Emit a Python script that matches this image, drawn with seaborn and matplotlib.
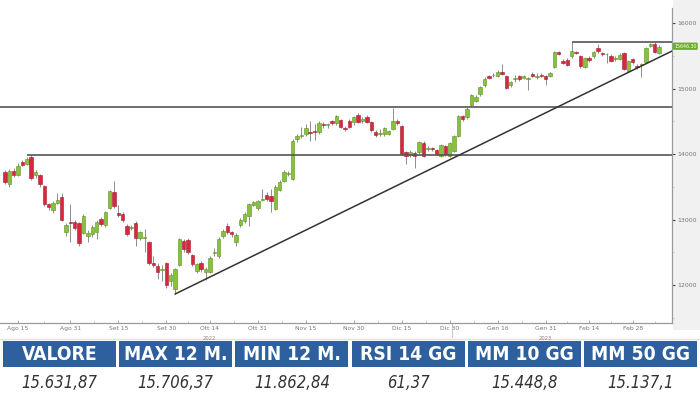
import numpy as np
import pandas as pd
import matplotlib
matplotlib.use('Agg')
from matplotlib import pyplot as plt
from matplotlib.patches import Rectangle
from matplotlib.lines import Line2D
import seaborn as sns

# Daily candles, last session 8 Mar 2023
opens = [13725, 13540, 13740, 13680, 13880, 13850, 13955, 13680, 13680, 13510,
         13235, 13145, 13250, 13340, 12810, 12960, 12960, 12945, 12795, 12750,
         12780, 12810, 13010, 12915, 13175, 13420, 13100, 13085, 12900, 12870,
         12945, 12715, 12720, 12655, 12335, 12290, 12225,
         12335, 12060, 11940, 12305, 12670, 12680, 12455, 12215, 12335, 12200,
         12200, 12490, 12440, 12750, 12900, 12810, 12660, 12920, 12975, 13055,
         13220, 13175, 13300, 13370, 13360, 13160, 13450, 13590, 13700, 13620,
         14230, 14280, 14305, 14330, 14350, 14335, 14460, 14440, 14500, 14475,
         14520, 14400, 14505, 14490, 14600, 14500, 14565, 14490, 14335, 14310,
         14305, 14305, 14380, 14505, 14430, 14030, 13990, 14015, 14030, 14170,
         14080, 14090, 14060, 13970, 14120, 13970, 14045, 14275, 14580, 14565,
         14750, 14810, 14915, 15055, 15190, 15200, 15190, 15250, 15190, 15055,
         15140, 15190, 15160, 15145, 15220, 15180, 15205, 15190, 15190, 15330,
         15560, 15420, 15435, 15495, 15560, 15495, 15330, 15465, 15495, 15620,
         15540, 15520, 15495, 15450, 15450, 15540, 15270, 15450, 15345, 15360,
         15405, 15650, 15680, 15545]
highs = [13760, 13770, 13790, 13860, 13910, 13960, 13990, 13760, 13700, 13530,
         13260, 13290, 13400, 13410, 12950, 13240, 13000, 12960, 13080, 12840,
         12920, 12990, 13040, 13130, 13450, 13590, 13220, 13110, 12930, 12920,
         12980, 12830, 12850, 12670, 12450, 12330, 12300,
         12350, 12180, 12260, 12720, 12700, 12720, 12480, 12340, 12360, 12280,
         12440, 12560, 12730, 12850, 12950, 12830, 12790, 13020, 13110, 13250,
         13290, 13300, 13460, 13420, 13460, 13520, 13600, 13760, 13740, 14230,
         14300, 14420, 14460, 14500, 14460, 14500, 14490, 14470, 14520, 14600,
         14540, 14430, 14530, 14580, 14620, 14570, 14590, 14510, 14360, 14380,
         14420, 14370, 14700, 14530, 14450, 14050, 14060, 14040, 14200, 14200,
         14120, 14110, 14080, 14150, 14140, 14190, 14290, 14600, 14600, 14720,
         14920, 14900, 15040, 15170, 15210, 15240, 15280, 15370, 15200, 15120,
         15200, 15210, 15210, 15180, 15260, 15230, 15230, 15210, 15260, 15580,
         15580, 15450, 15460, 15706, 15580, 15510, 15480, 15490, 15580, 15680,
         15560, 15550, 15520, 15490, 15540, 15560, 15440, 15470, 15370, 15390,
         15640, 15700, 15706, 15665]
lows = [13540, 13500, 13650, 13660, 13820, 13830, 13610, 13640, 13500, 13200,
        13150, 13100, 13230, 12970, 12750, 12650, 12840, 12600, 12780, 12650,
        12740, 12700, 12900, 12890, 13160, 13180, 13040, 12960, 12750, 12840,
        12600, 12690, 12500, 12300, 12280, 12090, 12060,
        11960, 11980, 11862, 12290, 12500, 12480, 12290, 12190, 12200, 12080,
        12180, 12440, 12420, 12720, 12780, 12740, 12600, 12880, 12950, 12900,
        13200, 13150, 13280, 13290, 13120, 13140, 13430, 13570, 13660, 13600,
        14180, 14250, 14280, 14200, 14210, 14310, 14400, 14390, 14450, 14450,
        14390, 14350, 14390, 14450, 14470, 14480, 14470, 14340, 14260, 14270,
        14280, 14290, 14360, 14450, 13980, 13850, 13950, 13780, 14000, 13950,
        14050, 14050, 13980, 13950, 13970, 13950, 14030, 14260, 14500, 14540,
        14730, 14790, 14890, 15030, 15140, 15170, 15170, 15200, 14990, 15030,
        15100, 15120, 15140, 14980, 15170, 15150, 15170, 15050, 15170, 15310,
        15510, 15370, 15340, 15470, 15520, 15320, 15310, 15410, 15470, 15550,
        15500, 15390, 15400, 15420, 15430, 15280, 15250, 15380, 15300, 15180,
        15390, 15630, 15540, 15530]
closes = [13573, 13740, 13680, 13820, 13840, 13925, 13635, 13720, 13540, 13235,
          13190, 13250, 13300, 12990, 12920, 12950, 12870, 12640, 13055, 12800,
          12885, 12960, 12930, 13115, 13435, 13205, 13070, 12990, 12780, 12885,
          12715, 12810, 12730, 12335, 12305, 12200, 12240,
          12000, 12150, 12245, 12700, 12550, 12510, 12320, 12320, 12245, 12245,
          12410, 12500, 12700, 12825, 12810, 12780, 12765, 12995, 13085, 13235,
          13265, 13280, 13310, 13310, 13280, 13500, 13575, 13725, 13710, 14200,
          14275, 14290, 14400, 14320, 14340, 14475, 14440, 14445, 14475, 14580,
          14410, 14380, 14410, 14560, 14490, 14540, 14490, 14365, 14290, 14320,
          14400, 14350, 14505, 14475, 14000, 13970, 14030, 13970, 14185, 13970,
          14090, 14075, 14000, 14135, 14000, 14170, 14275, 14580, 14535, 14690,
          14900, 14870, 15020, 15145, 15160, 15210, 15250, 15220, 15010, 15100,
          15150, 15145, 15190, 15150, 15190, 15190, 15190, 15145, 15235, 15560,
          15530, 15390, 15360, 15575, 15545, 15345, 15465, 15435, 15560, 15575,
          15525, 15530, 15420, 15460, 15510, 15300, 15420, 15405, 15330, 15365,
          15620, 15680, 15560, 15632]
last_session = '2023-03-08'
last_tag = '15646.30'

# Drawn levels
resistance = 14718
support = 13990
support_from = '2022-08-17'
top_level = 15706
top_from = '2023-02-08'
trend_low = 11862
trend_edge = 15573

tick_dates = ['2022-08-15', '2022-08-31', '2022-09-15', '2022-09-30', '2022-10-14',
              '2022-10-31', '2022-11-15', '2022-11-30', '2022-12-15', '2022-12-30',
              '2023-01-16', '2023-01-31', '2023-02-14', '2023-02-28']
tick_labels = ['Ago 15', 'Ago 31', 'Set 15', 'Set 30', 'Ott 14', 'Ott 31', 'Nov 15',
               'Nov 30', 'Dic 15', 'Dic 30', 'Gen 16', 'Gen 31', 'Feb 14', 'Feb 28']
year_dates = ['2022-10-14', '2023-01-31']
year_labels = ['2022', '2023']
y_ticks = [12000, 13000, 14000, 15000, 16000]

headers = ['VALORE', 'MAX 12 M.', 'MIN 12 M.', 'RSI 14 GG', 'MM 10 GG', 'MM 50 GG']
values = ['15.631,87', '15.706,37', '11.862,84', '61,37', '15.448,8', '15.137,1']

sns.set_theme(style='white')
plt.rcParams['font.family'] = ['DejaVu Sans']

dates = pd.bdate_range(end=last_session, periods=len(closes))
df = pd.DataFrame({'open': opens, 'high': highs, 'low': lows, 'close': closes}, index=dates)
df['x'] = np.arange(len(df))
df['up'] = df['close'] >= df['open']
pos = pd.Series(df['x'].values, index=dates)

GREEN, GREEN_EDGE = '#86c23a', '#5d8f24'
RED, RED_EDGE = '#d8283f', '#a31a2c'

fig = plt.figure(figsize=(7, 4), dpi=100)
fig.patches.append(Rectangle((673 / 700, 70 / 400), 27 / 700, 330 / 400,
                             transform=fig.transFigure, facecolor='#f1f1f1',
                             edgecolor='none', zorder=-5))
fig.lines.append(Line2D([0, 1], [61 / 400, 61 / 400], transform=fig.transFigure,
                        color='#d6e4f2', lw=1, zorder=-5))

ax = fig.add_axes([0, 77 / 400, 672 / 700, 315 / 400])
ax.patch.set_alpha(0)
xmin, xmax = -1.15, 153
ax.set_xlim(xmin, xmax)
ax.set_ylim(11420, 16230)

# Wicks and bodies
ax.vlines(df['x'], df['low'], df['high'], color='#8c8c8c', lw=0.7, zorder=2)
body_low = df[['open', 'close']].min(axis=1)
body_h = (df['close'] - df['open']).abs().clip(lower=14)
ax.bar(df['x'], body_h, bottom=body_low, width=0.78,
       color=np.where(df['up'], GREEN, RED),
       edgecolor=np.where(df['up'], GREEN_EDGE, RED_EDGE), linewidth=0.4, zorder=3)

# Levels and trend line
ax.hlines(resistance, xmin, xmax, color='#555555', lw=1.2, zorder=4)
ax.hlines(support, pos[support_from], xmax, color='#555555', lw=1.2, zorder=4)
ax.hlines(top_level, pos[top_from], xmax, color='#555555', lw=1.2, zorder=4)
x_low = df['x'].iloc[int(np.argmin(df['low']))]
ax.plot([x_low, xmax], [trend_low, trend_edge], color='#333333', lw=1.1, zorder=4)

# Axes styling
for side in ['left', 'top']:
    ax.spines[side].set_visible(False)
for side in ['right', 'bottom']:
    ax.spines[side].set_color('#9a9a9a')
    ax.spines[side].set_linewidth(0.9)
ax.yaxis.tick_right()
ax.set_yticks(y_ticks)
ax.set_yticklabels([str(v) for v in y_ticks])
ax.set_yticks([v + 500 for v in y_ticks[:-1]] + [11500], minor=True)
ax.tick_params(axis='y', which='major', right=True, direction='out', length=2,
               width=0.8, color='#444444', labelsize=4.5, labelcolor='#777777', pad=2)
ax.tick_params(axis='y', which='minor', right=True, direction='out', length=1.5,
               width=0.5, color='#bbbbbb')
ax.set_xticks([pos[d] for d in tick_dates])
ax.set_xticklabels(tick_labels)
mids = [(pos[a] + pos[b]) / 2 for a, b in zip(tick_dates[:-1], tick_dates[1:])]
ax.set_xticks(mids + [pos[tick_dates[-1]] + 5], minor=True)
ax.tick_params(axis='x', which='major', bottom=True, direction='in', length=2,
               width=0.6, color='#999999', labelsize=4.3, labelcolor='#777777', pad=2)
ax.tick_params(axis='x', which='minor', bottom=True, direction='in', length=1.5,
               width=0.5, color='#aaaaaa')
ax.grid(False)
for d, lab in zip(year_dates, year_labels):
    ax.text(pos[d], -0.048, lab, transform=ax.get_xaxis_transform(),
            ha='center', va='center', fontsize=3.8, color='#888888')
x_year = pos['2022-12-30'] + 0.5
ax.plot([x_year, x_year], [0, -0.045], transform=ax.get_xaxis_transform(),
        color='#bbbbbb', lw=0.6, clip_on=False)

ax.annotate(last_tag, xy=(1, float(last_tag)), xycoords=('axes fraction', 'data'),
            xytext=(1.5, 0), textcoords='offset points', ha='left', va='center',
            fontsize=3.4, color='white',
            bbox=dict(boxstyle='round,pad=0.25', fc='#6fae2b', ec='none'))

# Summary table
tab = fig.add_axes([0, 0, 1, 64 / 400])
tab.set_xlim(0, 700)
tab.set_ylim(64, 0)
tab.axis('off')
gap = 3.2
cell_w = (694 - 5 * gap) / 6
head_txt, val_txt = [], []
for i, (h, v) in enumerate(zip(headers, values)):
    x0 = 3 + i * (cell_w + gap)
    tab.add_patch(Rectangle((x0, 5), cell_w, 26, facecolor='#2e5f9e', edgecolor='none'))
    head_txt.append(tab.text(x0 + cell_w / 2, 18.5, h, ha='center', va='center',
                             fontsize=16, fontweight='bold', fontstretch='condensed',
                             color='white'))
    val_txt.append(tab.text(x0 + cell_w / 2, 47.5, v, ha='center', va='center',
                            fontsize=15, style='italic', fontstretch='condensed',
                            color='#333333'))

# shrink table text to the widths seen in the reference
renderer = fig.canvas.get_renderer()
for texts, target in [(head_txt, 104), (val_txt, 76)]:
    widest = max(t.get_window_extent(renderer).width for t in texts)
    if widest > target:
        for t in texts:
            t.set_fontsize(t.get_fontsize() * target / widest)

fig.savefig('out.png', dpi=100)
